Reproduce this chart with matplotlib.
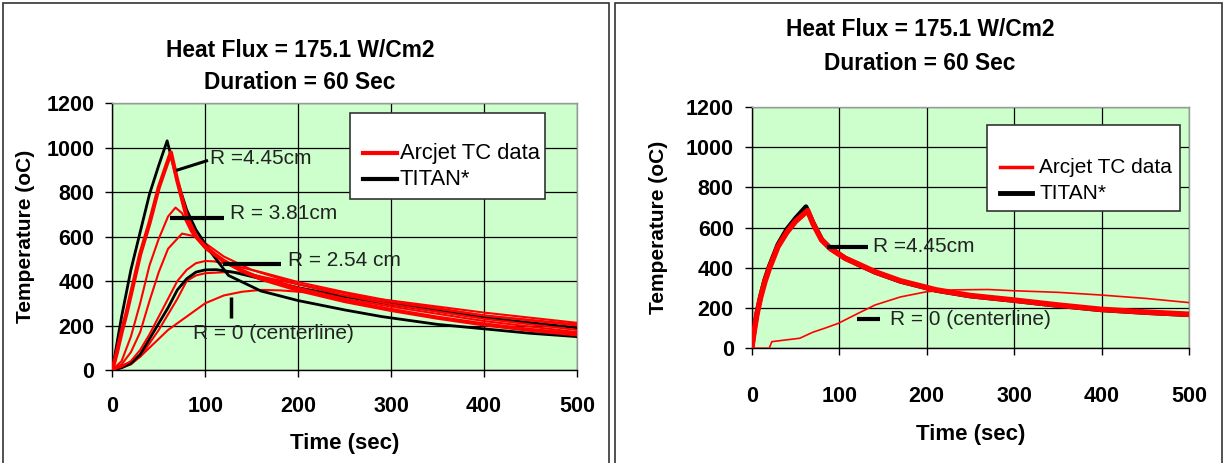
import matplotlib
matplotlib.use("Agg")
import matplotlib.pyplot as plt
from matplotlib.patches import Rectangle
from matplotlib.lines import Line2D

plt.rcParams['font.family'] = ['Liberation Sans', 'DejaVu Sans']

# ---------------- data ----------------
title_text = "Heat Flux = 175.1 W/Cm2\nDuration = 60 Sec"
x_label = "Time (sec)"
y_label = "Temperature (oC)"
x_ticks = [0, 100, 200, 300, 400, 500]
y_ticks = [0, 200, 400, 600, 800, 1000, 1200]
legend_labels = ["Arcjet TC data", "TITAN*"]

# Left panel: TITAN (black)
L_titan_445_t = [0, 5, 10, 20, 30, 40, 50, 59, 70, 80, 90, 105, 125, 160, 200, 250, 290, 350, 400, 450, 500]
L_titan_445_T = [0, 120, 240, 450, 620, 790, 920, 1030, 850, 720, 630, 535, 425, 355, 312, 270, 240, 205, 185, 165, 150]
L_titan_254_t = [0, 10, 20, 30, 40, 50, 60, 70, 80, 90, 100, 112, 130, 160, 200, 250, 300, 400, 500]
L_titan_254_T = [0, 10, 30, 70, 140, 210, 280, 360, 410, 440, 450, 451, 440, 410, 370, 330, 295, 235, 190]
# Left panel: Arcjet TC data (red)
L_arc_445_t = [0, 5, 10, 15, 20, 30, 40, 50, 63, 70, 80, 90, 100, 110, 120, 140, 160, 200, 250, 300, 350, 400, 450, 500]
L_arc_445_T = [0, 80, 170, 250, 340, 520, 660, 820, 978, 850, 690, 600, 555, 520, 490, 445, 410, 360, 310, 270, 235, 205, 180, 160]
L_arc_381_t = [0, 10, 20, 30, 40, 50, 60, 68, 75, 85, 100, 120, 150, 200, 250, 300, 400, 500]
L_arc_381_T = [0, 40, 150, 300, 470, 590, 690, 730, 705, 620, 545, 485, 430, 370, 320, 285, 220, 170]
L_arc_318_t = [0, 10, 20, 30, 40, 50, 60, 75, 90, 100, 120, 150, 200, 250, 300, 400, 500]
L_arc_318_T = [0, 25, 80, 170, 310, 440, 545, 613, 600, 570, 510, 450, 385, 335, 295, 230, 180]
L_arc_254_t = [0, 10, 20, 30, 40, 50, 60, 70, 80, 90, 100, 110, 130, 160, 200, 250, 300, 400, 500]
L_arc_254_T = [0, 15, 40, 90, 160, 240, 320, 400, 450, 480, 490, 488, 470, 440, 395, 350, 310, 245, 200]
L_arc_127_t = [0, 10, 20, 30, 40, 50, 60, 70, 80, 90, 100, 123, 140, 160, 200, 250, 300, 400, 500]
L_arc_127_T = [0, 10, 25, 60, 120, 180, 250, 320, 400, 425, 435, 440, 438, 420, 385, 345, 305, 245, 205]
L_arc_0_t = [0, 10, 20, 30, 40, 50, 60, 70, 80, 100, 120, 140, 160, 180, 200, 250, 300, 400, 500]
L_arc_0_T = [0, 20, 35, 60, 100, 140, 180, 210, 240, 300, 335, 352, 360, 358, 352, 335, 312, 258, 212]

# Right panel
R_titan_445_t = [0, 3, 6, 10, 15, 20, 25, 30, 40, 50, 62, 70, 80, 90, 107, 124, 141, 170, 211, 250, 299, 350, 398, 450, 500]
R_titan_445_T = [0, 95, 175, 255, 340, 405, 460, 515, 590, 645, 703, 625, 540, 497, 447, 412, 378, 333, 288, 260, 238, 213, 192, 178, 167]
R_arc_445_t = [0, 3, 6, 10, 15, 20, 25, 30, 40, 50, 64, 70, 80, 90, 107, 124, 141, 170, 211, 250, 299, 350, 398, 450, 500]
R_arc_445_T = [0, 90, 170, 250, 330, 395, 450, 505, 575, 630, 684, 620, 538, 495, 447, 414, 380, 335, 290, 262, 240, 215, 194, 180, 169]
R_arc_0_t = [0, 10, 20, 23, 40, 55, 70, 85, 99, 120, 141, 170, 200, 230, 270, 299, 350, 398, 450, 500]
R_arc_0_T = [0, 0, 0, 33, 42, 50, 80, 102, 124, 170, 215, 255, 281, 290, 292, 286, 278, 265, 248, 227]

# Annotations (label, text x, text y, leader line xs, leader line ys, line width)
L_notes = [
    ("R =4.45cm", 105, 951, [68.7, 103], [897, 942], 2.2),
    ("R = 3.81cm", 127, 703, [62, 120], [683, 683], 3.0),
    ("R = 2.54 cm", 189, 493, [119, 182], [478, 478], 3.0),
    ("R = 0 (centerline)", 87, 165, [128, 128], [329, 232], 2.5),
]
R_notes = [
    ("R =4.45cm", 139, 505, [86, 133], [505, 505], 3.0),
    ("R = 0 (centerline)", 158, 141, [120, 147], [144, 144], 3.0),
]

W, H = 1225, 463
fig = plt.figure(figsize=(W / 100, H / 100), dpi=100)

# panel frames
for x0, x1 in [(3, 609), (615, 1222)]:
    fig.add_artist(Rectangle((x0 / W, -0.05), (x1 - x0) / W, (H - 3) / H + 0.05,
                             transform=fig.transFigure, fill=False,
                             edgecolor='#333333', linewidth=1.2))

ax1 = fig.add_axes([112.3 / W, (H - 370) / H, (577 - 112.3) / W, (370 - 103) / H])
ax2 = fig.add_axes([751.7 / W, (H - 348.3) / H, (1189 - 751.7) / W, (348.3 - 106.7) / H])

red = '#ff0000'
# left curves
ax1.plot(L_arc_0_t, L_arc_0_T, color=red, lw=1.5, zorder=3)
ax1.plot(L_arc_127_t, L_arc_127_T, color=red, lw=1.5, zorder=3)
ax1.plot(L_titan_254_t, L_titan_254_T, color='black', lw=2.0, zorder=3)
ax1.plot(L_arc_254_t, L_arc_254_T, color=red, lw=1.5, zorder=3)
ax1.plot(L_arc_318_t, L_arc_318_T, color=red, lw=1.5, zorder=3)
ax1.plot(L_arc_381_t, L_arc_381_T, color=red, lw=1.5, zorder=3)
ax1.plot(L_titan_445_t, L_titan_445_T, color='black', lw=2.0, zorder=3)
ax1.plot(L_arc_445_t, L_arc_445_T, color=red, lw=3.0, zorder=4)

# right curves
ax2.plot(R_titan_445_t, R_titan_445_T, color='black', lw=3.5, zorder=3)
ax2.plot(R_arc_445_t, R_arc_445_T, color=red, lw=4.0, zorder=4)
ax2.plot(R_arc_0_t, R_arc_0_T, color=red, lw=1.2, zorder=4)

settings = [
    # ax, notes, x tick pad, x labelpad, y labelpad
    (ax1, L_notes, 14, 11.5, 8),
    (ax2, R_notes, 22.5, 12, 13),
]
for ax, notes, xpad, xlp, ylp in settings:
    ax.set_facecolor('#ccffcc')
    ax.set_xlim(0, 500)
    ax.set_ylim(0, 1200)
    ax.set_xticks(x_ticks, [str(v) for v in x_ticks], fontweight='bold')
    ax.set_yticks(y_ticks, [str(v) for v in y_ticks], fontweight='bold')
    ax.grid(True, color='black', lw=0.9, zorder=1)
    ax.set_axisbelow(True)
    ax.tick_params(direction='out', length=5, width=1, labelsize=15.5, colors='black')
    ax.tick_params(axis='y', pad=8)
    ax.tick_params(axis='x', pad=xpad)
    for s in ['left', 'bottom']:
        ax.spines[s].set_color('black')
        ax.spines[s].set_linewidth(1.0)
    for s in ['top', 'right']:
        ax.spines[s].set_color('#999999')
        ax.spines[s].set_linewidth(1.0)
    ax.set_xlabel(x_label, fontsize=16, fontweight='bold', labelpad=xlp)
    ax.set_ylabel(y_label, fontsize=15, fontweight='bold', labelpad=ylp)
    for label, tx, ty, lx, ly, lw in notes:
        ax.plot(lx, ly, color='black', lw=lw, zorder=5, solid_capstyle='butt')
        ax.text(tx, ty, label, fontsize=15, color='#222222', va='center', ha='left', zorder=6)

# legends drawn manually
def draw_legend(ax, box, y1, y2, lx, tx, red_lw, blk_lw, fs):
    ax.add_patch(Rectangle((box[0], box[1]), box[2] - box[0], box[3] - box[1],
                           transform=ax.transAxes, facecolor='white',
                           edgecolor='#333333', lw=1.2, zorder=7))
    ax.add_line(Line2D(lx, [y1, y1], transform=ax.transAxes, color=red, lw=red_lw, zorder=8))
    ax.add_line(Line2D(lx, [y2, y2], transform=ax.transAxes, color='black', lw=blk_lw, zorder=8))
    ax.text(tx, y1, legend_labels[0], transform=ax.transAxes, fontsize=fs, va='center', zorder=8)
    ax.text(tx, y2, legend_labels[1], transform=ax.transAxes, fontsize=fs, va='center', zorder=8)

draw_legend(ax1, (0.5115, 0.639, 0.931, 0.9637), 0.8116, 0.7142, [0.5395, 0.6127], 0.619, 3.0, 3.0, 15.8)
draw_legend(ax2, (0.5374, 0.5695, 0.9794, 0.9242), 0.7492, 0.6416, [0.5678, 0.6403], 0.6577, 2.5, 3.5, 15)

fig.text(300 / W, 1 - 66.5 / H, title_text, ha='center', va='center', fontsize=16.4,
         fontweight='bold', linespacing=1.5)
fig.text(920 / W, 1 - 46.5 / H, title_text, ha='center', va='center', fontsize=16.4,
         fontweight='bold', linespacing=1.6)

fig.savefig('out.png', dpi=100)
